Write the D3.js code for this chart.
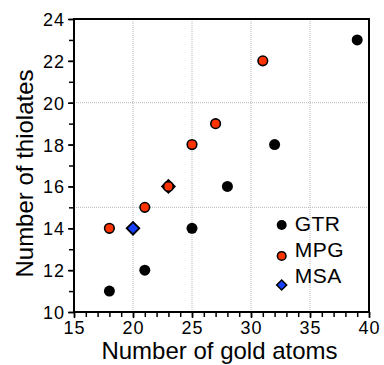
<!DOCTYPE html>
<html>
<head>
<meta charset="utf-8">
<script src="https://cdn.jsdelivr.net/npm/d3@7"></script>
<style>
body { margin:0; background:#fff; }
text { font-family: "Liberation Sans", Arial, Helvetica, sans-serif; fill:#000; }
</style>
</head>
<body>
<div class="chart"></div>
<script>
// data
var gtrAtoms = [18, 21, 25, 28, 32, 39],
    gtrThiol = [11, 12, 14, 16, 18, 23];
var mpgAtoms = [18, 21, 23, 25, 27, 31],
    mpgThiol = [14, 15, 16, 18, 19, 22];
var msaAtoms = [20, 23],
    msaThiol = [14, 16];
var xTicks = [15, 20, 25, 30, 35, 40],
    yTicks = [10, 12, 14, 16, 18, 20, 22, 24];
var xGrid = [20, 25, 30, 35],
    yGrid = [15, 20];
var legendNames = ["GTR", "MPG", "MSA"];

var margin = {top:19, right:15, bottom:53, left:74},
    width = 384 - margin.left - margin.right,
    height = 365 - margin.top - margin.bottom;

var svg = d3.select(".chart").append("svg")
    .attr("width", 384)
    .attr("height", 365);

var g = svg.append("g")
    .attr("transform", "translate(" + margin.left + "," + margin.top + ")");

var x = d3.scaleLinear().domain([15, 40]).range([0, width]);
var y = d3.scaleLinear().domain([10, 24]).range([height, 0]);

// dotted grid
g.selectAll(".xgrid").data(xGrid).enter().append("line")
    .attr("x1", d => x(d)).attr("x2", d => x(d))
    .attr("y1", 0).attr("y2", height)
    .attr("stroke", "#b8b8b8").attr("stroke-width", 1)
    .attr("stroke-dasharray", "1,1");
g.selectAll(".ygrid").data(yGrid).enter().append("line")
    .attr("x1", 0).attr("x2", width)
    .attr("y1", d => y(d)).attr("y2", d => y(d))
    .attr("stroke", "#b8b8b8").attr("stroke-width", 1)
    .attr("stroke-dasharray", "1,1");

// minor ticks
g.append("g")
    .attr("transform", "translate(0," + height + ")")
    .call(d3.axisBottom(x).ticks(25).tickSize(5).tickFormat(""))
    .call(s => s.select(".domain").remove())
    .selectAll("line").attr("stroke-width", 1.5);
g.append("g")
    .call(d3.axisLeft(y).ticks(14).tickSize(5).tickFormat(""))
    .call(s => s.select(".domain").remove())
    .selectAll("line").attr("stroke-width", 1.5);

// major ticks + labels
var xAxis = g.append("g")
    .attr("transform", "translate(0," + height + ")")
    .call(d3.axisBottom(x).tickValues(xTicks).tickSize(6).tickPadding(3));
xAxis.select(".domain").remove();
xAxis.selectAll("line").attr("stroke-width", 1.5);
xAxis.selectAll("text").attr("font-size", 18).attr("letter-spacing", 1)
    .attr("font-family", "Liberation Sans, Arial, sans-serif");

var yAxis = g.append("g")
    .call(d3.axisLeft(y).tickValues(yTicks).tickSize(6).tickPadding(3));
yAxis.select(".domain").remove();
yAxis.selectAll("line").attr("stroke-width", 1.5);
yAxis.selectAll("text").attr("font-size", 18).attr("letter-spacing", 1)
    .attr("dy", "0.36em")
    .attr("font-family", "Liberation Sans, Arial, sans-serif");

// frame
g.append("rect")
    .attr("width", width).attr("height", height)
    .attr("fill", "none").attr("stroke", "#000").attr("stroke-width", 2);

var diamond = d3.symbol().type(d3.symbolSquare).size(80);

// MSA diamonds
g.selectAll(".msa").data(msaAtoms).enter().append("path")
    .attr("d", diamond)
    .attr("transform", (d, i) => "translate(" + x(d) + "," + y(msaThiol[i]) + ") rotate(45)")
    .attr("fill", "#1740ff").attr("stroke", "#000").attr("stroke-width", 1.8);

// GTR
g.selectAll(".gtr").data(gtrAtoms).enter().append("circle")
    .attr("cx", d => x(d)).attr("cy", (d, i) => y(gtrThiol[i]))
    .attr("r", 5.5).attr("fill", "#000");

// MPG
g.selectAll(".mpg").data(mpgAtoms).enter().append("circle")
    .attr("cx", d => x(d)).attr("cy", (d, i) => y(mpgThiol[i]))
    .attr("r", 4.8).attr("fill", "#ff3300")
    .attr("stroke", "#000").attr("stroke-width", 1.6);

// legend
var leg = g.append("g").attr("transform", "translate(" + x(32.6) + "," + y(14.16) + ")");
leg.append("circle").attr("cx", 0).attr("cy", 0).attr("r", 5).attr("fill", "#000");
leg.append("circle").attr("cx", 0).attr("cy", 31).attr("r", 4.3).attr("fill", "#ff3300")
    .attr("stroke", "#000").attr("stroke-width", 1.5);
leg.append("path").attr("d", d3.symbol().type(d3.symbolSquare).size(50))
    .attr("transform", "translate(0,60) rotate(45)")
    .attr("fill", "#1740ff").attr("stroke", "#000").attr("stroke-width", 1.5);
leg.selectAll(".lt").data(legendNames).enter().append("text")
    .attr("x", 13).attr("y", (d, i) => [-1, 24.5, 51][i])
    .attr("font-size", 21).attr("dy", "0.36em").attr("letter-spacing", 0.5)
    .text(d => d);

// axis titles
svg.append("text")
    .attr("x", margin.left + width / 2 - 2).attr("y", 359)
    .attr("text-anchor", "middle").attr("font-size", 24)
    .text("Number of gold atoms");
svg.append("text")
    .attr("transform", "translate(33," + (margin.top + height / 2 + 8) + ") rotate(-90)")
    .attr("text-anchor", "middle").attr("font-size", 24)
    .text("Number of thiolates");
</script>
</body>
</html>
